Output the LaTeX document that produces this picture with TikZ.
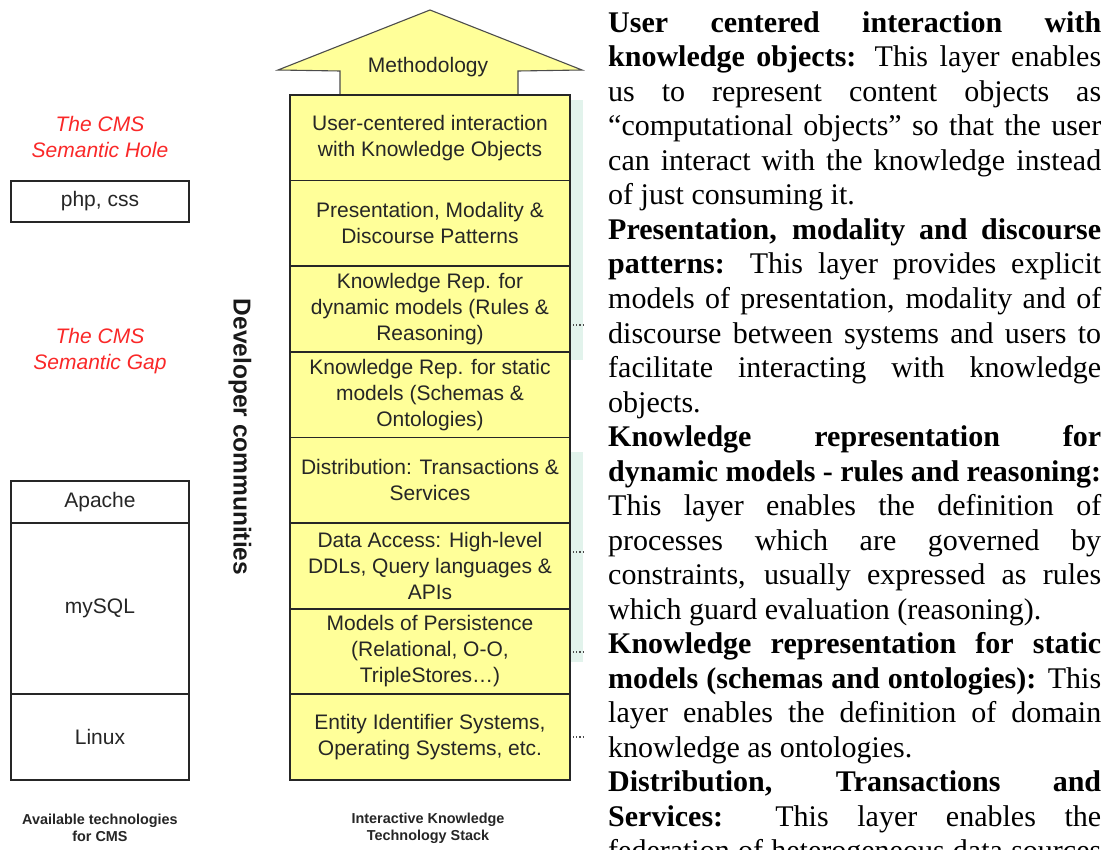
\documentclass[tikz,border=0pt]{standalone}
\usepackage{fontspec}
\newfontfamily\ar{Liberation Sans}
\newfontfamily\tnr{Liberation Serif}
\definecolor{lyel}{HTML}{FFFF99}
\definecolor{tealbg}{HTML}{E2F3EC}
\definecolor{cmsred}{HTML}{FA2828}
\newcommand{\J}[1]{\makebox[493pt][s]{#1}}
\begin{document}
\begin{tikzpicture}[x=1pt,y=-1pt,
  layer/.style={draw=black!85, line width=1.8pt, fill=lyel, minimum width=280pt, minimum height=85.6pt,
    inner sep=0pt, align=center, font=\ar\fontsize{21}{26}\selectfont, text=black!85},
  tech/.style={draw=black!85, line width=1.6pt, fill=white, minimum width=178pt, inner sep=0pt,
    font=\ar\fontsize{21}{26}\selectfont, text=black!85},
  hole/.style={text=cmsred, font=\ar\itshape\fontsize{21}{26}\selectfont, align=center},
  ln/.style={anchor=base west, inner sep=0pt, font=\tnr\fontsize{30}{34.5}\selectfont},
  capt/.style={font=\ar\bfseries\fontsize{14.4}{17}\selectfont, align=center, text=black!85},
  stub/.style={dotted, line width=1.2pt, black!70}]
\useasboundingbox (0,0) rectangle (1108,850);
\clip (0,0) rectangle (1108,850);
\fill[white] (0,0) rectangle (1108,850);

% teal shadow behind the stack
\fill[tealbg] (566,100) rectangle (583,360);
\fill[tealbg] (566,452) rectangle (583,662);

% methodology arrow
\draw[fill=lyel, draw=black!70, line width=1.1pt]
  (340,96) -- (340,71) -- (278,70) -- (430,10) -- (582,70) -- (518,71) -- (518,96) -- cycle;
\node[font=\ar\fontsize{21}{26}\selectfont, text=black!85] (meth) at (428,67) {Methodology};

% stack
\node[layer] (L1) at (430,137.8) {User-centered interaction\\with Knowledge Objects};
\node[layer] (L2) at (430,223.4) {Presentation, Modality \&\\Discourse Patterns};
\node[layer] (L3) at (430,309.0) {Knowledge Rep. for\\dynamic models (Rules \&\\Reasoning)};
\node[layer] (L4) at (430,394.6) {Knowledge Rep. for static\\models (Schemas \&\\Ontologies)};
\node[layer] (L5) at (430,480.2) {Distribution: Transactions \&\\Services};
\node[layer] (L6) at (430,565.8) {Data Access: High-level\\DDLs, Query languages \&\\APIs};
\node[layer] (L7) at (430,651.4) {Models of Persistence\\(Relational, O-O,\\TripleStores…)};
\node[layer] (L8) at (430,737.0) {Entity Identifier Systems,\\Operating Systems, etc.};

% dotted stubs
\draw[stub] (573,325) -- (585,325);
\draw[stub] (573,552) -- (585,552);
\draw[stub] (573,652) -- (585,652);
\draw[stub] (573,737) -- (585,737);

% left column
\node[hole] (hole) at (100,137) {The CMS\\Semantic Hole};
\node[tech, minimum height=41pt] (php) at (100,201.5) {php, css};
\node[hole] (gap) at (100,351) {The CMS\\Semantic Gap};
\node[tech, minimum height=42pt] (apache) at (100,502) {Apache};
\node[tech, minimum height=171pt] (mysql) at (100,608.5) {mySQL};
\node[tech, minimum height=86pt] (linux) at (100,737) {Linux};

\node[rotate=-90, font=\ar\bfseries\fontsize{24.5}{28}\selectfont, text=black!90] (dev) at (240,437) {Developer communities};

\node[capt] (cap1) at (100,828) {Available technologies\\for CMS};
\node[capt] (cap2) at (428,828) {Interactive Knowledge\\Technology Stack};

% right text column
\node[ln] (t1) at (608,32.5) {\J{\textbf{User centered interaction with}}};
\node[ln] (t2) at (608,67.0) {\J{\textbf{knowledge objects:} This layer enables}};
\node[ln] (t3) at (608,101.5) {\J{us to represent content objects as}};
\node[ln] (t4) at (608,136.0) {\J{“computational objects” so that the user}};
\node[ln] (t5) at (608,170.5) {\J{can interact with the knowledge instead}};
\node[ln] (t6) at (608,205.0) {of just consuming it.};
\node[ln] (t7) at (608,239.5) {\J{\textbf{Presentation, modality and discourse}}};
\node[ln] (t8) at (608,274.0) {\J{\textbf{patterns:} This layer provides explicit}};
\node[ln] (t9) at (608,308.5) {\J{models of presentation, modality and of}};
\node[ln] (t10) at (608,343.0) {\J{discourse between systems and users to}};
\node[ln] (t11) at (608,377.5) {\J{facilitate interacting with knowledge}};
\node[ln] (t12) at (608,412.0) {objects.};
\node[ln] (t13) at (608,446.5) {\J{\textbf{Knowledge representation for}}};
\node[ln] (t14) at (608,481.0) {\J{\textbf{dynamic models - rules and reasoning:}}};
\node[ln] (t15) at (608,515.5) {\J{This layer enables the definition of}};
\node[ln] (t16) at (608,550.0) {\J{processes which are governed by}};
\node[ln] (t17) at (608,584.5) {\J{constraints, usually expressed as rules}};
\node[ln] (t18) at (608,619.0) {which guard evaluation (reasoning).};
\node[ln] (t19) at (608,653.5) {\J{\textbf{Knowledge representation for static}}};
\node[ln] (t20) at (608,688.0) {\J{\textbf{models (schemas and ontologies):} This}};
\node[ln] (t21) at (608,722.5) {\J{layer enables the definition of domain}};
\node[ln] (t22) at (608,757.0) {knowledge as ontologies.};
\node[ln] (t23) at (608,791.5) {\J{\textbf{Distribution, Transactions and}}};
\node[ln] (t24) at (608,826.0) {\J{\textbf{Services:} This layer enables the}};
\node[ln] (t25) at (608,860.5) {\J{federation of heterogeneous data sources}};
\end{tikzpicture}
\end{document}
